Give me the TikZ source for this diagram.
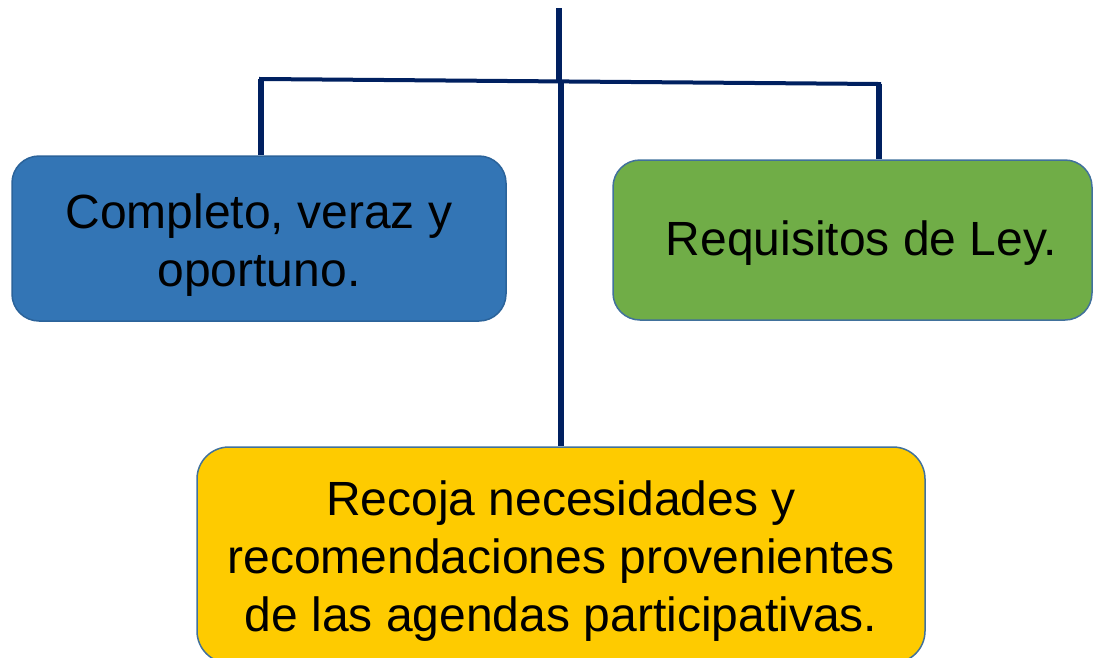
\documentclass[tikz,border=0pt]{standalone}
\usepackage{fontspec}
\setmainfont{Liberation Sans}
\definecolor{boxblue}{HTML}{3375B5}
\definecolor{boxgreen}{HTML}{70AD47}
\definecolor{boxyellow}{HTML}{FECB00}
\definecolor{edgeblue}{HTML}{41719C}
\definecolor{navy}{HTML}{002060}
\begin{document}
\begin{tikzpicture}[x=1pt,y=-1pt,
  card/.style={draw=edgeblue, line width=1.5pt, rounded corners=27pt, align=center,
    font=\fontsize{48}{58}\selectfont, inner sep=0pt},
  vline/.style={draw=navy, line width=6pt},
  hline/.style={draw=navy, line width=4pt}]
\useasboundingbox (0,0) rectangle (1094,657);
\clip (0,0) rectangle (1094,657);
\node[card, fill=boxblue, draw=boxblue!85!black, minimum width=494pt, minimum height=165pt] (blue) at (259,238.5) {\rule{0pt}{48pt}Completo, veraz y\\oportuno.};
\node[card, fill=boxgreen, minimum width=479pt, minimum height=160pt] (green) at (852.5,240) {\rule{0pt}{40pt}\hspace*{18pt}Requisitos de Ley.};
\node[card, fill=boxyellow, minimum width=728pt, minimum height=216pt, rounded corners=32pt] (yellow) at (561,555) {\rule{0pt}{46pt}Recoja necesidades y\\recomendaciones provenientes\\de las agendas participativas.};
\coordinate (top) at (559,8);
\coordinate (jl) at (261,79);
\coordinate (jr) at (879,84);
\coordinate (jt) at (559,81);
\coordinate (jm) at (561,81);
\draw[hline, line cap=rect] (jl) -- (jr);
\draw[vline] (top) -- (jt);
\draw[vline] (jl) -- (blue.north -| jl);
\draw[vline] (jr) -- (green.north -| jr);
\draw[vline] (jm) -- (yellow.north -| jm);
\end{tikzpicture}
\end{document}
